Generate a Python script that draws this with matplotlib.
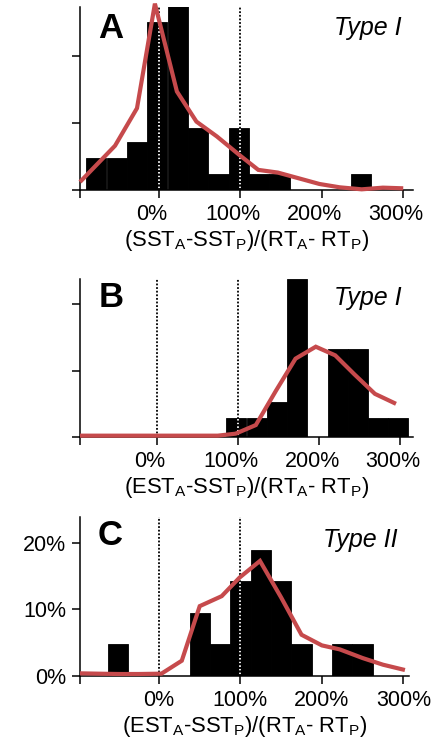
import matplotlib
matplotlib.use('Agg')
import matplotlib.pyplot as plt
from matplotlib.transforms import ScaledTranslation

plt.rcParams['font.family'] = ['Liberation Sans', 'DejaVu Sans']
plt.rcParams['mathtext.fontset'] = 'custom'
plt.rcParams['mathtext.rm'] = 'Liberation Sans'
plt.rcParams['mathtext.it'] = 'Liberation Sans:italic'

RED = '#c64a4c'
BIN_WIDTH = 24.8

# panel A (SST, type I)
a_centers = [-77, -52, -27, -2, 23, 48, 73, 98, 123, 148, 248]
a_heights = [4.7, 4.7, 7.1, 25.0, 27.4, 9.2, 2.4, 9.2, 2.4, 2.4, 2.4]
a_line_x = [-97, -54, -27, -5, 22, 46, 71, 99, 122, 146, 173, 197, 222, 249, 275, 300]
a_line_y = [1.2, 6.6, 12.2, 27.8, 14.7, 10.2, 8.0, 5.2, 3.0, 2.6, 1.7, 0.9, 0.4, 0.1, 0.35, 0.25]

# panel B (EST, type I)
b_centers = [98, 123, 148, 173, 223, 248, 273, 298]
b_heights = [2.8, 2.8, 5.3, 23.8, 13.2, 13.2, 2.8, 2.8]
b_line_x = [-95, 0, 75, 97, 122, 147, 171, 196, 220, 244, 269, 295]
b_line_y = [0.2, 0.2, 0.2, 0.5, 1.8, 7.0, 11.8, 13.6, 12.3, 9.4, 6.5, 5.0]

# panel C (EST, type II)
c_centers = [-50, 50, 75, 100, 125, 150, 175, 225, 250]
c_heights = [4.8, 9.5, 4.8, 14.3, 19.0, 14.3, 4.8, 4.8, 4.8]
c_line_x = [-97, -75, -50, -25, 3, 28, 50, 77, 99, 124, 150, 175, 200, 222, 250, 275, 302]
c_line_y = [0.4, 0.35, 0.3, 0.3, 0.35, 2.3, 10.5, 12.0, 14.8, 17.3, 11.8, 6.2, 4.6, 4.0, 2.7, 1.7, 0.9]

x_ticks = [0, 100, 200, 300]
x_tick_labels = ['0%', '100%', '200%', '300%']
y_ticks = [0, 10, 20]
y_tick_labels = ['0%', '10%', '20%']

label_sst = r'(SST$_\mathregular{A}$-SST$_\mathregular{P}$)/(RT$_\mathregular{A}$- RT$_\mathregular{P}$)'
label_est = r'(EST$_\mathregular{A}$-SST$_\mathregular{P}$)/(RT$_\mathregular{A}$- RT$_\mathregular{P}$)'


def draw_panel(ax, centers, heights, line_x, line_y, xlim, ylim,
               letter, kind, xlabel, text_y, show_ylabels, shift_ticks):
    ax.bar(centers, heights, width=BIN_WIDTH, color='black',
           edgecolor='black', linewidth=0.6, zorder=1)
    for xv in (0, 100):
        ax.axvline(xv, color='black', lw=1.3, linestyle=(0, (1, 1)),
                   gapcolor='white', zorder=2)
    ax.plot(line_x, line_y, color=RED, lw=3, solid_joinstyle='miter',
            solid_capstyle='butt', zorder=3, clip_on=False)
    ax.set_xlim(*xlim)
    ax.set_ylim(*ylim)
    for side in ('top', 'right'):
        ax.spines[side].set_visible(False)
    for side in ('left', 'bottom'):
        ax.spines[side].set_linewidth(1.1)
    ax.set_xticks([xlim[0]] + x_ticks)
    ax.set_xticklabels([''] + x_tick_labels)
    ax.set_yticks(y_ticks)
    if show_ylabels:
        ax.set_yticklabels(y_tick_labels)
    else:
        ax.set_yticklabels([])
    ax.tick_params(direction='out', length=6, width=1.1, labelsize=15.5, pad=4)
    if shift_ticks:
        offset = ScaledTranslation(-7 / 100, 0, ax.figure.dpi_scale_trans)
        for lab in ax.get_xticklabels():
            lab.set_transform(lab.get_transform() + offset)
    ax.set_xlabel(xlabel, fontsize=15.8, labelpad=2)
    ax.text(0.055, text_y[0], letter, transform=ax.transAxes, fontsize=25,
            fontweight='bold', va='baseline', ha='left')
    ax.text(0.965, text_y[1], kind, transform=ax.transAxes, fontsize=18,
            style='italic', va='baseline', ha='right')


fig = plt.figure(figsize=(4.35, 7.4), dpi=100)
W, H = 435.0, 740.0

ax_a = fig.add_axes([80 / W, (H - 190) / H, 333 / W, 183 / H])
draw_panel(ax_a, a_centers, a_heights, a_line_x, a_line_y, (-97, 312), (0, 27.3),
           'A', 'Type I', label_sst, (0.83, 0.847), False, True)

ax_b = fig.add_axes([80 / W, (H - 437) / H, 333 / W, 158 / H])
draw_panel(ax_b, b_centers, b_heights, b_line_x, b_line_y, (-95, 316), (0, 23.8),
           'B', 'Type I', label_est, (0.823, 0.834), False, True)

ax_c = fig.add_axes([80 / W, (H - 676) / H, 329 / W, 159 / H])
draw_panel(ax_c, c_centers, c_heights, c_line_x, c_line_y, (-97, 307), (0, 23.9),
           'C', 'Type II', label_est, (0.824, 0.813), True, False)

fig.savefig('out.png', dpi=100)
